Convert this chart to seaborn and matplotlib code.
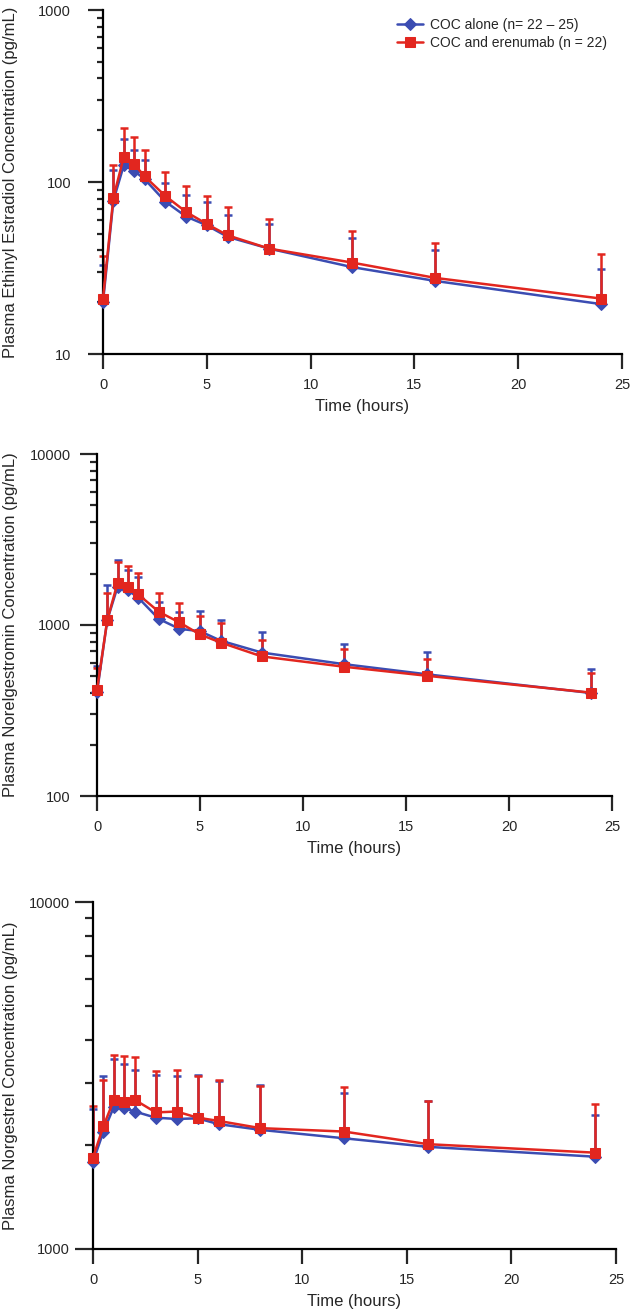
import numpy as np
import pandas as pd
import matplotlib
matplotlib.use("Agg")
import matplotlib.pyplot as plt
import seaborn as sns
from matplotlib.ticker import LogLocator, NullFormatter, FixedLocator

# sampling times (hours)
time_h = [0, 0.5, 1, 1.5, 2, 3, 4, 5, 6, 8, 12, 16, 24]

series_names = ["COC alone (n= 22 \u2013 25)", "COC and erenumab (n = 22)"]

# Ethinyl estradiol (pg/mL): mean and mean + SD
ee_alone_mean = [20, 78, 125, 116, 104, 77, 63, 56, 48, 41, 32, 26.6, 19.5]
ee_alone_upper = [33, 117, 178, 153, 134, 99, 84, 77, 64, 57, 47, 40, 31]
ee_eren_mean = [21, 81, 140, 127, 108, 83, 67, 57, 49, 41, 34, 27.7, 21]
ee_eren_upper = [37, 126, 206, 183, 153, 114, 95, 83, 72, 61, 52, 44, 38]

# Norelgestromin (pg/mL)
ngmn_alone_mean = [405, 1070, 1675, 1600, 1445, 1085, 950, 920, 810, 690, 590, 515, 400]
ngmn_alone_upper = [575, 1715, 2400, 2100, 1915, 1370, 1185, 1215, 1070, 915, 770, 695, 555]
ngmn_eren_mean = [415, 1070, 1765, 1675, 1510, 1195, 1035, 880, 790, 655, 570, 505, 402]
ngmn_eren_upper = [560, 1540, 2350, 2215, 2005, 1545, 1350, 1130, 1030, 815, 725, 630, 525]

# Norgestrel (pg/mL)
ng_alone_mean = [1785, 2180, 2570, 2545, 2490, 2390, 2370, 2380, 2290, 2205, 2085, 1970, 1845]
ng_alone_upper = [2540, 3150, 3520, 3420, 3285, 3170, 3150, 3180, 3040, 2970, 2820, 2675, 2430]
ng_eren_mean = [1835, 2260, 2690, 2660, 2690, 2475, 2490, 2390, 2340, 2230, 2180, 2005, 1895]
ng_eren_upper = [2585, 3070, 3630, 3605, 3575, 3260, 3280, 3150, 3065, 2950, 2925, 2675, 2620]

y_labels = [
    "Plasma Ethinyl Estradiol Concentration (pg/mL)",
    "Plasma Norelgestromin Concentration (pg/mL)",
    "Plasma Norgestrel Concentration (pg/mL)",
]

BLUE = "#3b4cb2"
RED = "#e2261f"

sns.set_style("ticks")
plt.rcParams["font.family"] = ["Liberation Sans", "DejaVu Sans"]

W, H = 630, 1311
fig = plt.figure(figsize=(W / 100, H / 100), dpi=100)

# panel boxes in pixels: left, right, top, bottom
boxes = [(103, 622, 10, 354), (97, 612, 454, 796), (93, 616, 902, 1249)]
ylims = [(10, 1000), (100, 10000), (1000, 10000)]
major_len = [11, 12, 13]
minor_len = [4, 5, 6]
ypads = [12, 7, 3.6]

panels = [
    (ee_alone_mean, ee_alone_upper, ee_eren_mean, ee_eren_upper),
    (ngmn_alone_mean, ngmn_alone_upper, ngmn_eren_mean, ngmn_eren_upper),
    (ng_alone_mean, ng_alone_upper, ng_eren_mean, ng_eren_upper),
]

t = np.array(time_h)
for i, (a_m, a_u, e_m, e_u) in enumerate(panels):
    l, r, tp, b = boxes[i]
    ax = fig.add_axes([l / W, (H - b) / H, (r - l) / W, (b - tp) / H])

    df = pd.DataFrame({
        "time": time_h * 2,
        "conc": a_m + e_m,
        "group": [series_names[0]] * len(time_h) + [series_names[1]] * len(time_h),
    })

    for name, mean, upper, color, mk, ms in [
        (series_names[0], a_m, a_u, BLUE, "D", 6),
        (series_names[1], e_m, e_u, RED, "s", 7),
    ]:
        mean = np.array(mean, dtype=float)
        upper = np.array(upper, dtype=float)
        ax.errorbar(t, mean, yerr=[np.zeros_like(mean), upper - mean], fmt="none",
                    ecolor=color, elinewidth=1.8, capsize=2.6, capthick=1.8,
                    clip_on=False, zorder=2)
        sub = df[df["group"] == name]
        sns.lineplot(data=sub, x="time", y="conc", ax=ax, color=color, marker=mk,
                     markersize=ms, markeredgecolor=color, linewidth=1.8,
                     label=name, clip_on=False, zorder=3)

    ax.set_yscale("log")
    ax.set_ylim(*ylims[i])
    ax.set_xlim(0, 25)
    ax.set_xticks([0, 5, 10, 15, 20, 25])
    ax.set_xticklabels(["0", "5", "10", "15", "20", "25"])
    lo, hi = ylims[i]
    majors = [v for v in [10, 100, 1000, 10000] if lo <= v <= hi]
    ax.yaxis.set_major_locator(FixedLocator(majors))
    ax.set_yticklabels([str(v) for v in majors])
    ax.yaxis.set_minor_locator(LogLocator(base=10, subs=np.arange(2, 10)))
    ax.yaxis.set_minor_formatter(NullFormatter())

    sns.despine(ax=ax)
    for s in ["left", "bottom"]:
        ax.spines[s].set_linewidth(1.6)
        ax.spines[s].set_color("black")
    ax.tick_params(axis="y", which="major", length=major_len[i], width=1.6,
                   labelsize=10.5, pad=ypads[i], direction="out")
    ax.tick_params(axis="y", which="minor", length=minor_len[i], width=1.6, direction="out")
    ax.tick_params(axis="x", which="major", length=11, width=1.6, labelsize=10.5,
                   pad=6, direction="out")

    ax.set_xlabel("Time (hours)", fontsize=12, labelpad=5)
    ax.set_ylabel(y_labels[i], fontsize=12)
    ax.yaxis.set_label_coords((18 - l) / (r - l), 0.5)

    if i == 0:
        ax.legend(loc="upper left", bbox_to_anchor=((397 - l) / (r - l), 1 - (18 - tp) / (b - tp)),
                  frameon=False, fontsize=10, handlelength=1.9, handletextpad=0.5,
                  labelspacing=0.3, borderpad=0, borderaxespad=0)
    else:
        leg = ax.get_legend()
        if leg is not None:
            leg.remove()

fig.savefig("out.png", dpi=100)
